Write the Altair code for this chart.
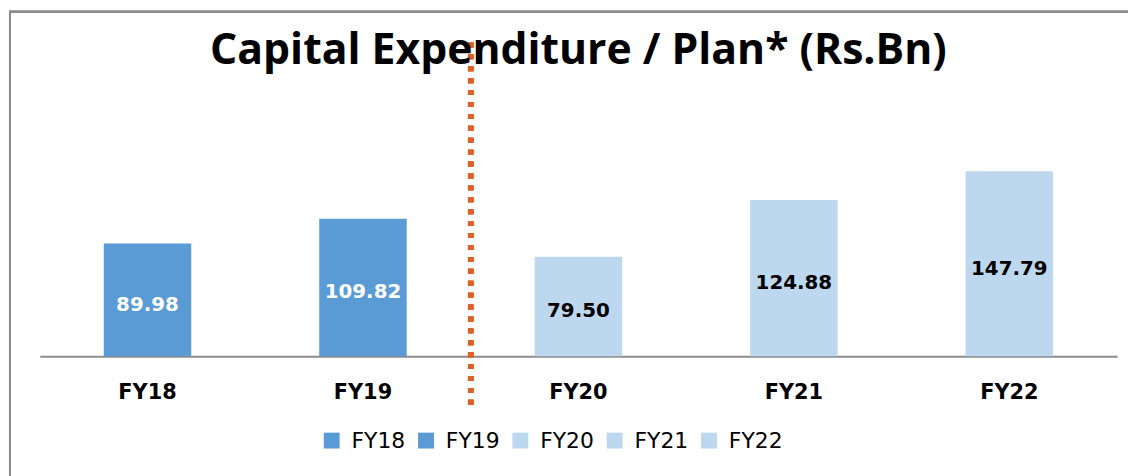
import altair as alt
import pandas as pd

years = ["FY18", "FY19", "FY20", "FY21", "FY22"]
values = [89.98, 109.82, 79.50, 124.88, 147.79]
labels = ["89.98", "109.82", "79.50", "124.88", "147.79"]

df = pd.DataFrame({"year": years, "value": values, "label": labels})

W, H = 1085, 252
DARK = "#5B9BD5"
LIGHT = "#BDD7EE"

xenc = alt.X("year:N", sort=years, title=None,
             scale=alt.Scale(paddingInner=0.594, paddingOuter=0.297),
             axis=alt.Axis(labelAngle=0, labelFont="DejaVu Sans", labelFontWeight="bold",
                           labelFontSize=21, labelColor="#000000", labelPadding=26,
                           ticks=False, tickSize=0, domainColor="#8c8c8c", domainWidth=2,
                           grid=False))
yscale = alt.Scale(domain=[0, 200])

bars = alt.Chart(df).mark_bar().encode(
    x=xenc,
    y=alt.Y("value:Q", scale=yscale, axis=None),
    color=alt.Color("year:N", sort=years,
                    scale=alt.Scale(domain=years, range=[DARK, DARK, LIGHT, LIGHT, LIGHT]),
                    legend=alt.Legend(title=None, orient="none", direction="horizontal",
                                      legendX=283, legendY=326, symbolType="square",
                                      symbolSize=256, symbolStrokeWidth=0,
                                      labelFont="DejaVu Sans", labelFontSize=22,
                                      labelColor="#000000", labelOffset=9,
                                      columnPadding=9, padding=0)),
)

text = alt.Chart(df).transform_calculate(mid="datum.value / 2").mark_text(
    font="DejaVu Sans", fontWeight="bold", fontSize=20, baseline="middle", dy=5
).encode(
    x=alt.X("year:N", sort=years),
    y=alt.Y("mid:Q", scale=yscale),
    text="label:N",
    color=alt.condition(alt.FieldOneOfPredicate(field="year", oneOf=["FY18", "FY19"]),
                        alt.value("#ffffff"), alt.value("#000000")),
)

divider = alt.Chart(df).mark_rule(color="#D9622B", strokeWidth=5.5, strokeDash=[5, 7]).encode(
    x=alt.value(W * 2 / 5), y=alt.value(-64), y2=alt.value(305)
)

frame = alt.Chart(df).mark_rect(fill=None, stroke="#8c8c8c", strokeWidth=2).encode(
    x=alt.value(-30), x2=alt.value(1120), y=alt.value(-95), y2=alt.value(400)
)

chart = alt.layer(frame, bars, text, divider).properties(
    width=W, height=H,
    background="#ffffff",
    title=alt.TitleParams("Capital Expenditure / Plan* (Rs.Bn)", font="Open Sans",
                          fontWeight="bold", fontSize=43, color="#000000",
                          anchor="middle", frame="group", baseline="alphabetic",
                          offset=0, dy=97),
    autosize=alt.AutoSizeParams(type="none"),
    padding={"left": 32, "top": 97, "right": 11, "bottom": 119},
).configure_view(stroke=None)

chart.save("out.html", embed_options={"renderer": "svg", "actions": False})
